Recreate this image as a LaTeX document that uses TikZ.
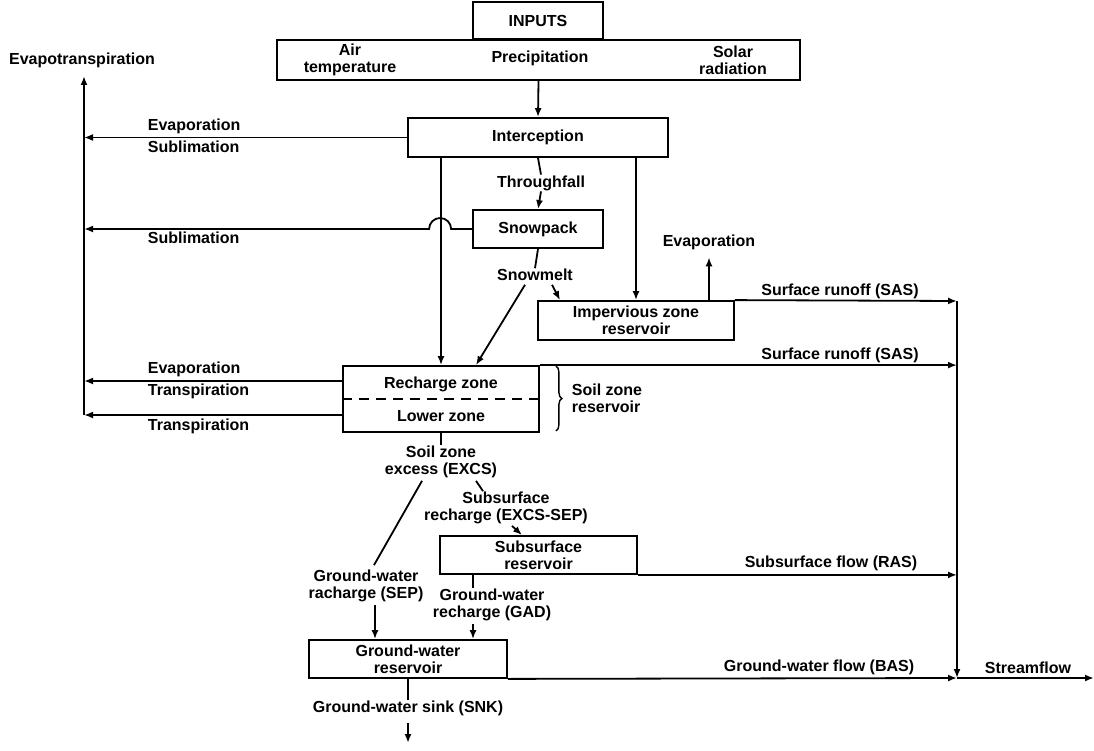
\documentclass[tikz,border=0pt]{standalone}
\usepackage{fontspec}
\setmainfont{Liberation Sans}
\usetikzlibrary{shapes,arrows.meta,decorations.pathreplacing}
\newcommand{\flowfont}{\fontsize{16}{17}\selectfont\bfseries}
\tikzstyle{block} = [rectangle, draw, line width=1.8pt, inner sep=0pt,
    align=center, font=\flowfont]
\tikzstyle{flowtext} = [inner sep=0pt, align=center, font=\flowfont]
\tikzstyle{line} = [draw, line width=1.8pt, -{Latex[length=9pt, width=7pt]}]

\begin{document}
\begin{tikzpicture}[x=1pt, y=-1pt, line width=1.8pt]
  \useasboundingbox (0,0) rectangle (1094,751);
  \node [block, minimum width=130pt, minimum height=37pt] (inputs) at (538,20.5) {INPUTS};
  \node [block, minimum width=523pt, minimum height=40pt] (input_row) at (538.5,60) {};
  \node [flowtext] (air_temp) at (350,60) {Air\\temperature};
  \node [flowtext] (precip) at (540,58) {Precipitation};
  \node [flowtext] (solar) at (733,60) {Solar\\radiation};
  \node [flowtext] (evapotrans) at (82,60) {Evapotranspiration};
  \node [block, minimum width=260pt, minimum height=39pt] (interception) at (538,137.5) {Interception};
  \node [flowtext] (throughfall) at (541,183) {Throughfall};
  \node [block, minimum width=130pt, minimum height=38pt] (snowpack) at (538,229) {Snowpack};
  \node [flowtext] (snowmelt) at (535,275) {Snowmelt};
  \node [block, minimum width=196pt, minimum height=39pt] (impervious) at (636,320.5) {Impervious zone\\reservoir};
  \node [flowtext] (evap_imp) at (709,242) {Evaporation};
  \node [block, minimum width=196pt, minimum height=66pt] (soil) at (441,399) {};
  \node [flowtext] (recharge_zone) at (441,384) {Recharge zone};
  \node [flowtext] (lower_zone) at (441,416) {Lower zone};
  \node [flowtext, anchor=west, align=left] (soil_res) at (571,398) {Soil zone\\reservoir};
  \node [flowtext] (soil_excess) at (441,462) {Soil zone\\excess (EXCS)};
  \node [flowtext] (sub_recharge) at (506,508) {Subsurface\\recharge (EXCS-SEP)};
  \node [block, minimum width=197pt, minimum height=38pt] (subsurface) at (538.5,555) {Subsurface\\reservoir};
  \node [flowtext] (gw_recharge_sep) at (366,586) {Ground-water\\racharge (SEP)};
  \node [flowtext] (gw_recharge_gad) at (492,605) {Ground-water\\recharge (GAD)};
  \node [block, minimum width=198pt, minimum height=38pt] (gw_reservoir) at (408,659) {Ground-water\\reservoir};
  \node [flowtext] (gw_sink) at (408,708) {Ground-water sink (SNK)};
  % side labels
  \node [flowtext, anchor=west] (evap_int) at (147,126) {Evaporation};
  \node [flowtext, anchor=west] (subl_int) at (147,147) {Sublimation};
  \node [flowtext, anchor=west] (subl_snow) at (147,238) {Sublimation};
  \node [flowtext, anchor=west] (evap_soil) at (147,369) {Evaporation};
  \node [flowtext, anchor=west] (trans_upper) at (147,391) {Transpiration};
  \node [flowtext, anchor=west] (trans_lower) at (147,426) {Transpiration};
  \node [flowtext] (sas_upper) at (840,291) {Surface runoff (SAS)};
  \node [flowtext] (sas_lower) at (840,355) {Surface runoff (SAS)};
  \node [flowtext] (ras) at (831,563) {Subsurface flow (RAS)};
  \node [flowtext] (bas) at (819,667) {Ground-water flow (BAS)};
  \node [flowtext] (streamflow) at (1028,668) {Streamflow};
  \coordinate (et_top) at (84,76);
  \coordinate (et_bottom) at (84,415);
  \coordinate (stream_top) at (957,301);
  \coordinate (stream_bottom) at (957,678);
  \coordinate (outflow) at (1094,678);
  \coordinate (sink_end) at (408,743);
  % connectors
  \path [line] (input_row.south) -- (interception.north);
  \path [line] (interception.west) -- (interception.west -| et_top);
  \path [line] (snowpack.west) -- ++(-21,0) arc [start angle=0, end angle=-180, radius=11] -- (snowpack.west -| et_top);
  \path [line] (interception.south -| soil.north) -- (soil.north);
  \draw (interception.south) -- (throughfall.north);
  \path [line] (throughfall.south) -- (snowpack.north);
  \path [line] (interception.south -| impervious.north) -- (impervious.north);
  \draw (snowpack.south) -- (snowmelt.north);
  \path [line] ([xshift=17pt, yshift=-3pt]snowmelt.south) -- ([xshift=-76pt]impervious.north);
  \path [line] ([xshift=-10pt, yshift=-3pt]snowmelt.south) -- ([xshift=35pt]soil.north);
  \path [line] (impervious.north -| evap_imp.south) -- ([yshift=-7pt]evap_imp.south);
  \path [line] (impervious.north east) -- (stream_top);
  \path [line] (soil.north east) -- (soil.north east -| stream_top);
  \path [line] ([yshift=18pt]soil.west) -- ([yshift=18pt]soil.west -| et_top);
  \path [line] ([yshift=-16pt]soil.west) -- (et_bottom);
  \path [line] (et_bottom) -- (et_top);
  \draw [dash pattern=on 10pt off 7pt, line width=1.5pt] (soil.west) -- (soil.east);
  \draw [decorate, decoration={brace, amplitude=6pt}, line width=1.4pt]
    ([xshift=16pt, yshift=-1pt]soil.north east) -- ([xshift=16pt, yshift=2pt]soil.south east);
  \draw (soil.south) -- (soil_excess.north);
  \draw ([xshift=-19pt, yshift=-2pt]soil_excess.south) -- ([xshift=8pt, yshift=4pt]gw_recharge_sep.north);
  \draw ([xshift=35pt, yshift=-2pt]soil_excess.south) -- ([xshift=-23pt]sub_recharge.north);
  \path [line] ([xshift=6pt, yshift=-1pt]sub_recharge.south) -- ([xshift=-16.5pt]subsurface.north);
  \path [line] (subsurface.south east) -- (subsurface.south east -| stream_top);
  \draw ([xshift=-65.5pt]subsurface.south) -- ([xshift=-19pt]gw_recharge_gad.north);
  \path [line] ([xshift=-19pt, yshift=-2pt]gw_recharge_gad.south) -- ([xshift=65pt]gw_reservoir.north);
  \path [line] ([xshift=9pt, yshift=-2pt]gw_recharge_sep.south) -- ([xshift=-33pt]gw_reservoir.north);
  \path [line] (gw_reservoir.south east) -- (stream_bottom);
  \draw (gw_reservoir.south) -- (gw_sink.north);
  \path [line] ([yshift=-7pt]gw_sink.south) -- (sink_end);
  \path [line] (stream_top) -- (stream_bottom);
  \path [line] (stream_bottom) -- (outflow);
\end{tikzpicture}
\end{document}
